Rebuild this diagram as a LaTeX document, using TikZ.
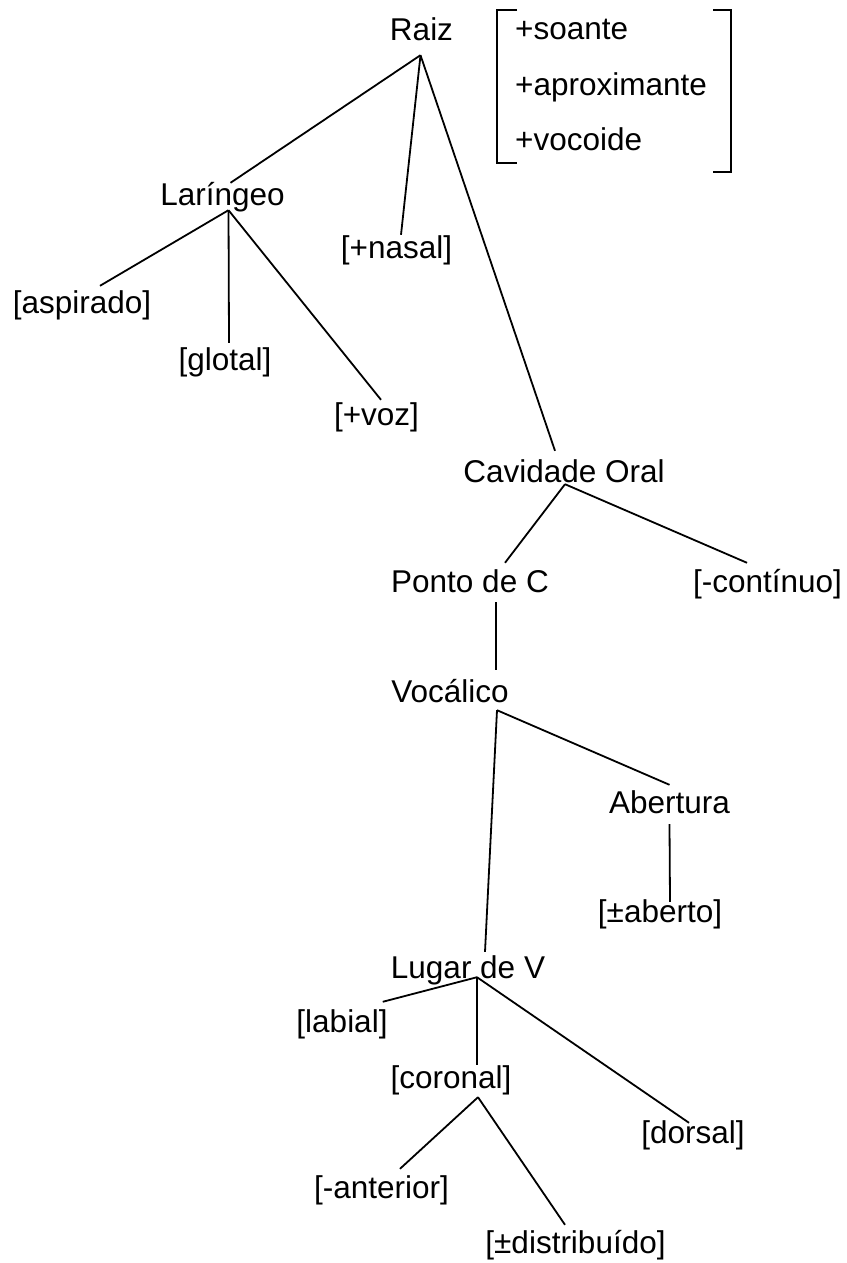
\documentclass[tikz,border=0pt]{standalone}
\usepackage{fontspec}
\setmainfont{Liberation Sans}
\usepackage{tikz}

\begin{document}
\begin{tikzpicture}[
    x=1pt, y=-1pt,
    feat/.style={inner sep=0pt, text height=23pt, text depth=7pt, anchor=base, font=\fontsize{31.5}{38}\selectfont},
    matrixfeat/.style={feat, anchor=base west},
    branch/.style={line width=1.8pt}
]
    \useasboundingbox (0,0) rectangle (846,1263);

    % nodes of the tree
    \node[feat] (raiz) at (421.5,41) {Raiz};
    \node[feat] (laringeo) at (222.5,205) {Laríngeo};
    \node[feat] (nasal) at (396.5,258) {[+nasal]};
    \node[feat] (aspirado) at (82,313) {[aspirado]};
    \node[feat] (glotal) at (225,370) {[glotal]};
    \node[feat] (voz) at (376.5,425) {[+voz]};
    \node[feat] (cavidade) at (564,482) {Cavidade Oral};
    \node[feat] (ponto) at (470,592) {Ponto de C};
    \node[feat] (continuo) at (767.5,592) {[-contínuo]};
    \node[feat] (vocalico) at (450,702) {Vocálico};
    \node[feat] (abertura) at (669.5,813) {Abertura};
    \node[feat] (aberto) at (660,922) {[±aberto]};
    \node[feat] (lugar) at (468,978) {Lugar de V};
    \node[feat] (labial) at (342,1032) {[labial]};
    \node[feat] (coronal) at (451,1088) {[coronal]};
    \node[feat] (dorsal) at (693,1143) {[dorsal]};
    \node[feat] (anterior) at (381.5,1198) {[-anterior]};
    \node[feat] (distribuido) at (575.5,1253) {[±distribuído]};

    % feature matrix of the root
    \node[matrixfeat] (soante) at (515,40) {+soante};
    \node[matrixfeat] (aprox) at (515,95) {+aproximante};
    \node[matrixfeat] (vocoide) at (515,150) {+vocoide};
    \draw[branch] (517,10) -- (497,10) -- (497,163) -- (517,163);
    \draw[branch] (713,10) -- (731,10) -- (731,172) -- (713,172);

    % branches
    \draw[branch] ([shift={(-1,7)}]raiz.south) -- ([shift={(8,1)}]laringeo.north);
    \draw[branch] ([shift={(-1,7)}]raiz.south) -- ([shift={(4.5,0)}]nasal.north);
    \draw[branch] ([shift={(-1,7)}]raiz.south) -- ([shift={(-9,-8)}]cavidade.north);
    \draw[branch] ([shift={(6,-2)}]laringeo.south) -- ([shift={(18,-4)}]aspirado.north);
    \draw[branch] ([shift={(6,-2)}]laringeo.south) -- ([shift={(4,-4)}]glotal.north);
    \draw[branch] ([shift={(6,-2)}]laringeo.south) -- ([shift={(4.5,-2)}]voz.north);
    \draw[branch] ([shift={(1,-5)}]cavidade.south) -- ([shift={(35,-6)}]ponto.north);
    \draw[branch] ([shift={(1,-5)}]cavidade.south) -- ([shift={(-20.5,-6)}]continuo.north);
    \draw[branch] ([shift={(26,3)}]ponto.south) -- ([shift={(46,-9)}]vocalico.north);
    \draw[branch] ([shift={(47,1)}]vocalico.south) -- ([shift={(0,-5)}]abertura.north);
    \draw[branch] ([shift={(47,1)}]vocalico.south) -- ([shift={(17,-3)}]lugar.north);
    \draw[branch] ([shift={(0,4)}]abertura.south) -- ([shift={(10,3)}]aberto.north);
    \draw[branch] ([shift={(9,-8)}]lugar.south) -- ([shift={(-5,-7)}]labial.north east);
    \draw[branch] ([shift={(9,-8)}]lugar.south) -- ([shift={(26,0)}]coronal.north);
    \draw[branch] ([shift={(9,-8)}]lugar.south) -- ([shift={(-4,3)}]dorsal.north);
    \draw[branch] ([shift={(27,2)}]coronal.south) -- ([shift={(18.5,-6)}]anterior.north);
    \draw[branch] ([shift={(27,2)}]coronal.south) -- ([shift={(-10.5,-5)}]distribuido.north);
\end{tikzpicture}
\end{document}
